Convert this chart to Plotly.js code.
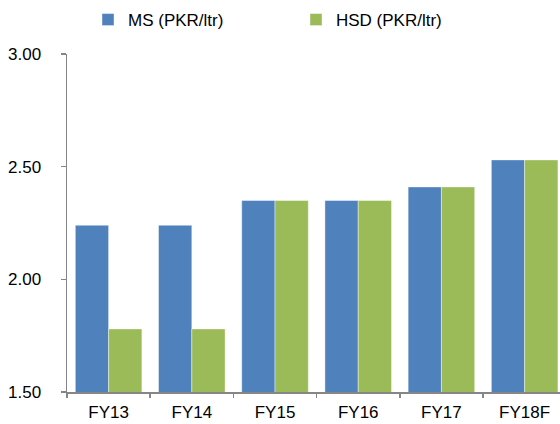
<!DOCTYPE html>
<html>
<head>
<meta charset="utf-8">
<script src="https://cdn.plot.ly/plotly-3.0.1.min.js"></script>
<style>
  html, body { margin: 0; padding: 0; background: #ffffff; }
  #chart { width: 560px; height: 424px; }
</style>
</head>
<body>
<div id="chart"></div>
<script>
// Fiscal years and fuel prices (PKR per litre)
const years = ['FY13', 'FY14', 'FY15', 'FY16', 'FY17', 'FY18F'];
const msPrice = [2.24, 2.24, 2.35, 2.35, 2.41, 2.53];
const hsdPrice = [1.78, 1.78, 2.35, 2.35, 2.41, 2.53];
const yTicks = [1.5, 2.0, 2.5, 3.0];
const yTickText = ['1.50', '2.00', '2.50', '3.00'];

const FONT = 'Liberation Sans, Arial, sans-serif';
const axisGrey = '#868686';

const traces = [
  {
    type: 'bar', name: 'MS (PKR/ltr)', x: years, y: msPrice,
    marker: { color: '#4F81BD', line: { color: 'rgba(255,255,255,0.6)', width: 0.7 } },
    legend: 'legend', hoverinfo: 'x+y'
  },
  {
    type: 'bar', name: 'HSD (PKR/ltr)', x: years, y: hsdPrice,
    marker: { color: '#9BBB59', line: { color: 'rgba(255,255,255,0.6)', width: 0.7 } },
    legend: 'legend2', hoverinfo: 'x+y'
  }
];

const layout = {
  width: 560, height: 424,
  margin: { l: 67, r: 0, t: 54, b: 32, pad: 0 },
  paper_bgcolor: '#ffffff', plot_bgcolor: '#ffffff',
  font: { family: FONT, size: 17, color: '#000000' },
  barmode: 'group', bargap: 0.2, bargroupgap: 0,
  showlegend: true,
  legend: {
    orientation: 'h', x: (88 - 67) / 493, xanchor: 'left', y: (392 - 20) / 338, yanchor: 'middle',
    font: { family: FONT, size: 17, color: '#000000' }, bgcolor: 'rgba(0,0,0,0)', borderwidth: 0
  },
  legend2: {
    orientation: 'h', x: (296 - 67) / 493, xanchor: 'left', y: (392 - 20) / 338, yanchor: 'middle',
    font: { family: FONT, size: 17, color: '#000000' }, bgcolor: 'rgba(0,0,0,0)', borderwidth: 0
  },
  xaxis: {
    type: 'category', range: [-0.5, 5.425], fixedrange: true,
    showline: true, linecolor: axisGrey, linewidth: 1.5,
    ticks: 'outside', tickson: 'boundaries', ticklen: 4, tickcolor: axisGrey, tickwidth: 1.5,
    showgrid: false, zeroline: false, ticklabelstandoff: 4,
    tickfont: { family: FONT, size: 17, color: '#000000' }
  },
  yaxis: {
    range: [1.5, 3.0], fixedrange: true,
    tickvals: yTicks, ticktext: yTickText,
    showline: true, linecolor: axisGrey, linewidth: 1.5,
    ticks: 'outside', ticklen: 5, tickcolor: axisGrey, tickwidth: 1.5,
    showgrid: false, zeroline: false, ticklabelstandoff: 16,
    tickfont: { family: FONT, size: 17, color: '#000000' }
  }
};

Plotly.newPlot('chart', traces, layout, { displayModeBar: false, staticPlot: true });
</script>
</body>
</html>
